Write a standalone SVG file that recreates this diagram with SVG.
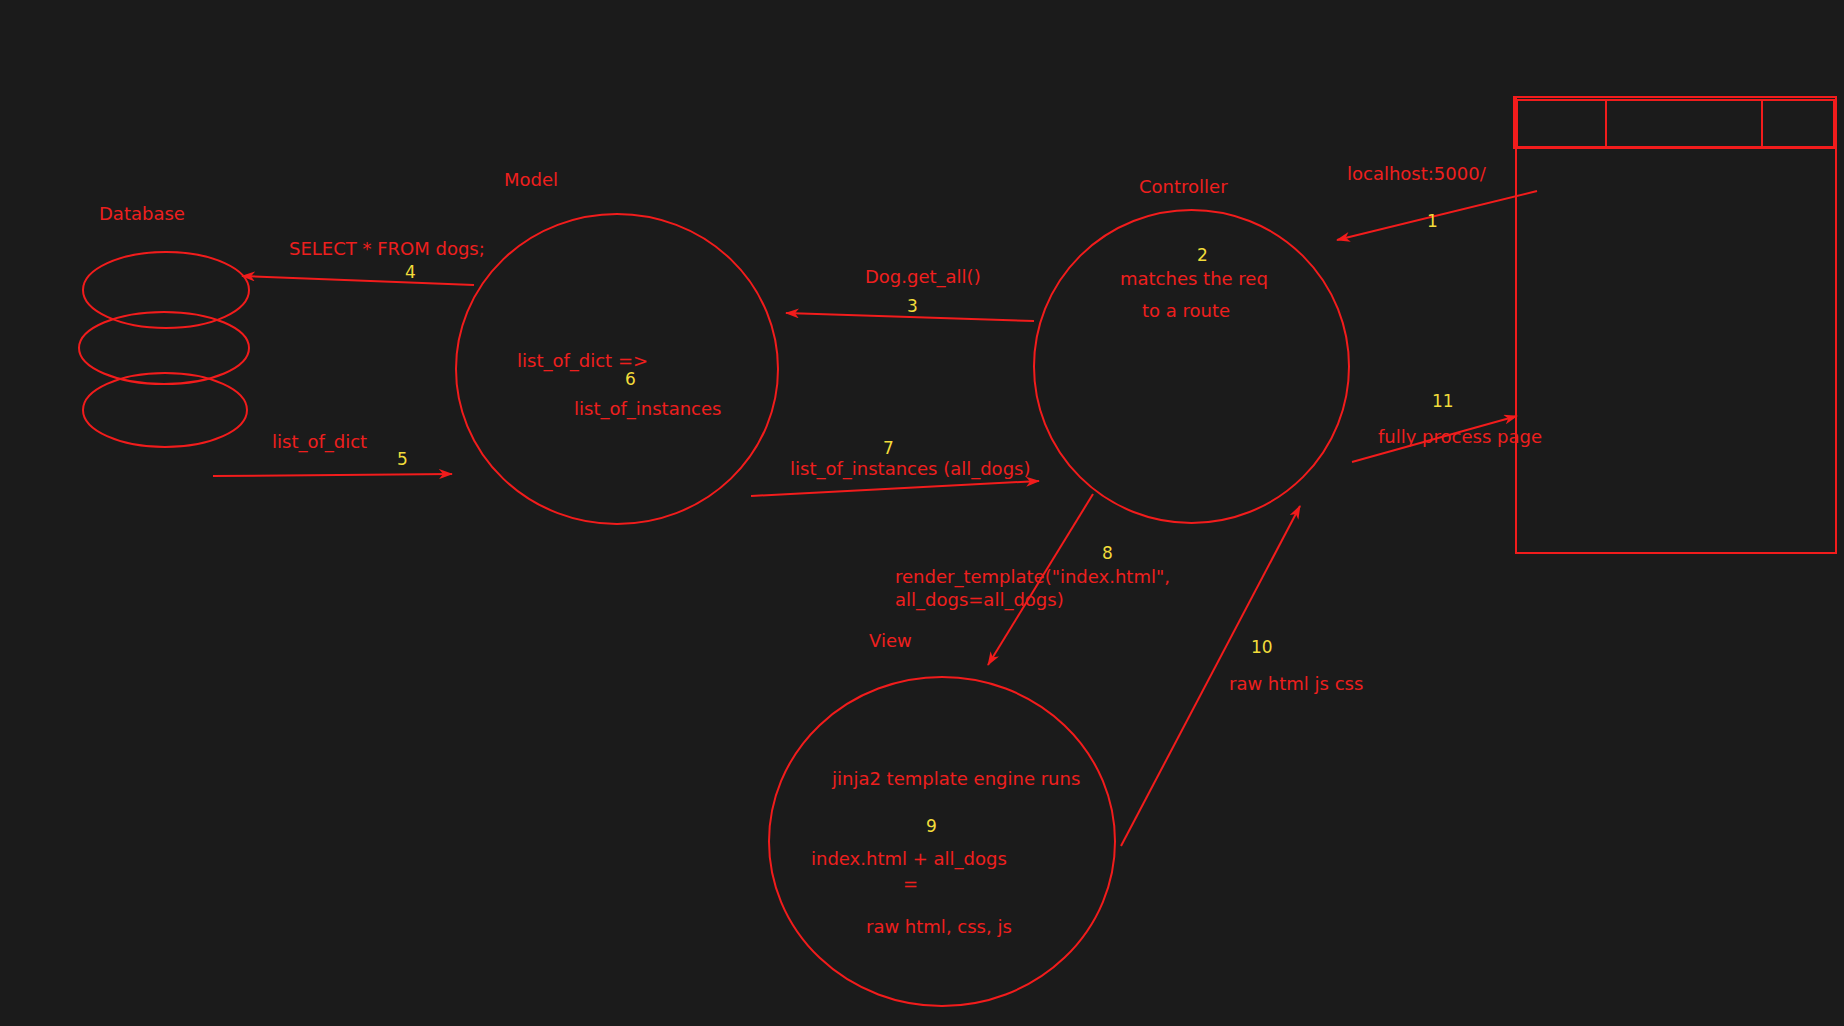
<svg xmlns="http://www.w3.org/2000/svg" width="1844" height="1026" viewBox="0 0 1844 1026">
<defs>
<style>
.s{fill:none;stroke:#f21c1c;stroke-width:2}
.t{fill:#ee1f1e;font-family:"DejaVu Sans","Noto Sans",sans-serif;font-size:18px}
.n{fill:#f2dc3a;font-family:"DejaVu Sans","Noto Sans",sans-serif;font-size:17px}
.c{fill:none;stroke:#f21c1c;stroke-width:2}
</style>
<marker id="ah" viewBox="0 0 14 10" refX="13" refY="5" markerWidth="14" markerHeight="10" markerUnits="userSpaceOnUse" orient="auto">
<path d="M0,0 L14,5 L0,10 L4,5 Z" fill="#f21c1c"/>
</marker>
</defs>
<rect width="1844" height="1026" fill="#1b1b1b"/>

<g id="database">
<ellipse class="s" cx="166" cy="290" rx="83" ry="38"/>
<ellipse class="s" cx="164" cy="348" rx="85" ry="36"/>
<ellipse class="s" cx="165" cy="410" rx="82" ry="37"/>
<text class="t" x="99" y="220">Database</text>
</g>

<g id="model">
<ellipse class="s" cx="617" cy="369" rx="161" ry="155"/>
<text class="t" x="504" y="186">Model</text>
<text class="t" x="517" y="367">list_of_dict =&gt;</text>
<text class="n" x="625" y="385">6</text>
<text class="t" x="574" y="415">list_of_instances</text>
</g>

<g id="controller">
<ellipse class="s" cx="1191.5" cy="366.5" rx="157.5" ry="156.5"/>
<text class="t" x="1139" y="193">Controller</text>
<text class="n" x="1197" y="261">2</text>
<text class="t" x="1120" y="285">matches the req</text>
<text class="t" x="1142" y="317">to a route</text>
</g>

<g id="view">
<ellipse class="s" cx="942" cy="841.5" rx="173" ry="164.5"/>
<text class="t" x="869" y="647">View</text>
<text class="t" x="832" y="785">jinja2 template engine runs</text>
<text class="n" x="926" y="832">9</text>
<text class="t" x="811" y="865">index.html + all_dogs</text>
<text class="t" x="903" y="890">=</text>
<text class="t" x="866" y="933">raw html, css, js</text>
</g>

<g id="browser">
<rect class="s" x="1516" y="97" width="320" height="456"/>
<rect class="s" x="1514" y="97" width="322" height="51"/>
<rect class="s" x="1517" y="100" width="317" height="47"/>
<line class="s" x1="1606" y1="99" x2="1606" y2="147"/>
<line class="s" x1="1762" y1="99" x2="1762" y2="147"/>
</g>

<g id="connectors">
<line class="c" x1="1537" y1="191" x2="1337" y2="240" marker-end="url(#ah)"/>
<line class="c" x1="1034" y1="321" x2="786" y2="313" marker-end="url(#ah)"/>
<line class="c" x1="474" y1="285" x2="242" y2="276" marker-end="url(#ah)"/>
<line class="c" x1="213" y1="476" x2="452" y2="474" marker-end="url(#ah)"/>
<line class="c" x1="751" y1="496" x2="1039" y2="481" marker-end="url(#ah)"/>
<line class="c" x1="1093" y1="494" x2="988" y2="665" marker-end="url(#ah)"/>
<line class="c" x1="1121" y1="846" x2="1300" y2="506" marker-end="url(#ah)"/>
<line class="c" x1="1352" y1="462" x2="1517" y2="416" marker-end="url(#ah)"/>
</g>

<g id="labels">
<text class="t" x="1347" y="180">localhost:5000/</text>
<text class="n" x="1427" y="227">1</text>
<text class="t" x="865" y="283">Dog.get_all()</text>
<text class="n" x="907" y="312">3</text>
<text class="t" x="289" y="255">SELECT * FROM dogs;</text>
<text class="n" x="405" y="278">4</text>
<text class="t" x="272" y="448">list_of_dict</text>
<text class="n" x="397" y="465">5</text>
<text class="n" x="883" y="454">7</text>
<text class="t" x="790" y="475">list_of_instances (all_dogs)</text>
<text class="n" x="1102" y="559">8</text>
<text class="t" x="895" y="583">render_template("index.html",</text>
<text class="t" x="895" y="606">all_dogs=all_dogs)</text>
<text class="n" x="1251" y="653">10</text>
<text class="t" x="1229" y="690">raw html js css</text>
<text class="n" x="1432" y="407">11</text>
<text class="t" x="1378" y="443">fully process page</text>
</g>
</svg>
